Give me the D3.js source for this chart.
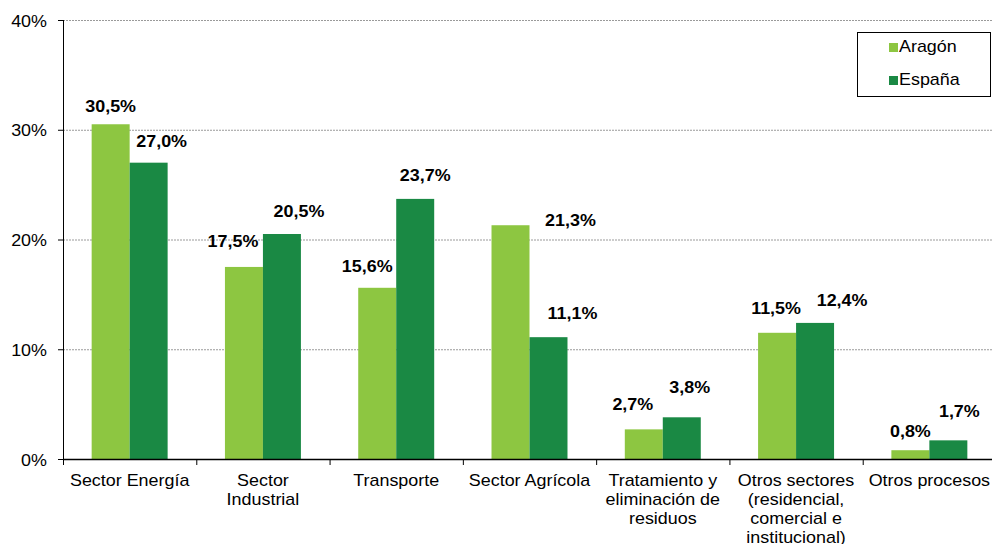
<!DOCTYPE html>
<html>
<head>
<meta charset="utf-8">
<script src="https://cdn.jsdelivr.net/npm/d3@7"></script>
<style>
  body { margin: 0; background: #fff; }
  svg { display: block; font-family: 'Liberation Sans', Arial, sans-serif; }
</style>
</head>
<body>
<div id="chart"></div>
<script>
// data
const categories = ['Sector Energía', 'Sector Industrial', 'Transporte', 'Sector Agrícola',
    'Tratamiento y eliminación de residuos', 'Otros sectores (residencial, comercial e institucional)', 'Otros procesos']
const categoryLines = [['Sector Energía'], ['Sector', 'Industrial'], ['Transporte'], ['Sector Agrícola'],
    ['Tratamiento y', 'eliminación de', 'residuos'], ['Otros sectores', '(residencial,', 'comercial e', 'institucional)'],
    ['Otros procesos']]
const seriesNames = ['Aragón', 'España']
const aragon = [30.5, 17.5, 15.6, 21.3, 2.7, 11.5, 0.8]
const espana = [27.0, 20.5, 23.7, 11.1, 3.8, 12.4, 1.7]
const yTicks = [0, 10, 20, 30, 40]

// hand placed label nudges (dx, dy from bar top), like in the original
const labelNudge = {
    'Aragón': [[0, -12], [-11, -20], [-10, -16], [60, 1], [-11, -19], [-1, -19], [0, -13]],
    'España': [[13, -16], [17, -17], [10, -18], [24, -18], [8, -24], [27, -17], [11, -23]]
}

const colours = { 'Aragón': '#8dc641', 'España': '#1a8944' }

const width = 992
const height = 544
const margin = { left: 63, top: 20, bottom: 85 }
const plotRight = 996
const sx = 1.12 // text in the source is a bit wide

const svg = d3.select('#chart').append('svg')
    .attr('width', width)
    .attr('height', height)

const y = d3.scaleLinear()
    .domain([0, 40])
    .range([height - margin.bottom, margin.top])

const x = d3.scaleBand()
    .domain(categories)
    .range([margin.left, plotRight])
    .padding(0)

const barW = x.bandwidth() * 0.285
const x1 = d3.scaleBand()
    .domain(seriesNames)
    .range([(x.bandwidth() - 2 * barW) / 2, (x.bandwidth() + 2 * barW) / 2])

const rows = categories.map((c, i) => ({ cat: c, i: i, values: [
    { name: 'Aragón', v: aragon[i] },
    { name: 'España', v: espana[i] }
] }))

// gridlines
svg.append('g')
    .selectAll('line')
    .data(yTicks.filter(d => d > 0))
    .enter().append('line')
    .attr('x1', margin.left)
    .attr('x2', width)
    .attr('y1', d => y(d) + 0.5)
    .attr('y2', d => y(d) + 0.5)
    .attr('stroke', '#9a9a9a')
    .attr('stroke-dasharray', '2,1')

// bars
const groups = svg.append('g')
    .selectAll('g')
    .data(rows)
    .enter().append('g')
    .attr('transform', d => 'translate(' + x(d.cat) + ',0)')

groups.selectAll('rect')
    .data(d => d.values)
    .enter().append('rect')
    .attr('x', d => x1(d.name))
    .attr('width', x1.bandwidth())
    .attr('y', d => y(d.v))
    .attr('height', d => y(0) - y(d.v))
    .attr('fill', d => colours[d.name])

// value labels
const fmt = d => d3.format('.1f')(d).replace('.', ',') + '%'
groups.each(function(row) {
    d3.select(this).selectAll('text.val')
        .data(row.values)
        .enter().append('text')
        .attr('class', 'val')
        .attr('transform', d => {
            const n = labelNudge[d.name][row.i]
            const cx = x1(d.name) + x1.bandwidth() / 2 + n[0]
            const cy = y(d.v) + n[1]
            return 'translate(' + cx + ',' + cy + ') scale(' + sx + ',1)'
        })
        .attr('text-anchor', 'middle')
        .style('font-size', '16px')
        .style('font-weight', 'bold')
        .attr('fill', '#000')
        .text(d => fmt(d.v))
})

// y axis
const yAxis = svg.append('g')
    .attr('transform', 'translate(' + margin.left + ',0)')
    .call(d3.axisLeft(y).tickValues(yTicks).tickSize(5).tickFormat(d => d + '%'))
yAxis.select('.domain').attr('d', 'M0.5,' + margin.top + 'V' + (y(0) + 0.5)).attr('stroke', '#000')
yAxis.selectAll('.tick line').attr('stroke', '#000')
yAxis.selectAll('.tick text')
    .attr('x', null)
    .attr('dy', null)
    .attr('transform', 'translate(-16,6) scale(' + sx + ',1)')
    .style('font-size', '16px')
    .style('font-family', "'Liberation Sans', Arial, sans-serif")
    .attr('fill', '#000')

// x axis
const xAxis = svg.append('g')
    .attr('transform', 'translate(0,' + y(0) + ')')
xAxis.append('line')
    .attr('x1', margin.left)
    .attr('x2', plotRight)
    .attr('y1', 0.5)
    .attr('y2', 0.5)
    .attr('stroke', '#000')
    .attr('stroke-width', 1.5)
xAxis.selectAll('.xtick')
    .data(categories.concat(['end']))
    .enter().append('line')
    .attr('class', 'xtick')
    .attr('x1', d => (d === 'end' ? plotRight : x(d)) + 0.5)
    .attr('x2', d => (d === 'end' ? plotRight : x(d)) + 0.5)
    .attr('y1', 0)
    .attr('y2', 6)
    .attr('stroke', '#000')

const xl = xAxis.selectAll('.xlab')
    .data(rows)
    .enter().append('text')
    .attr('class', 'xlab')
    .attr('text-anchor', 'middle')
    .attr('transform', d => 'translate(' + (x(d.cat) + x.bandwidth() / 2) + ',27) scale(' + sx + ',1)')
    .style('font-size', '16px')
    .attr('fill', '#000')
xl.selectAll('tspan')
    .data(d => categoryLines[d.i])
    .enter().append('tspan')
    .attr('x', 0)
    .attr('dy', (d, i) => i === 0 ? 0 : 19)
    .text(d => d)

// legend
const legend = svg.append('g')
    .attr('transform', 'translate(857,32)')
legend.append('rect')
    .attr('x', 0.5)
    .attr('y', 0.5)
    .attr('width', 133)
    .attr('height', 64)
    .attr('fill', '#fff')
    .attr('stroke', '#000')
const li = legend.selectAll('.li')
    .data(seriesNames)
    .enter().append('g')
    .attr('class', 'li')
    .attr('transform', (d, i) => 'translate(32,' + (11 + i * 33) + ')')
li.append('rect')
    .attr('width', 9)
    .attr('height', 9)
    .attr('fill', d => colours[d])
li.append('text')
    .attr('transform', 'translate(10,9) scale(' + sx + ',1)')
    .style('font-size', '16px')
    .attr('fill', '#000')
    .text(d => d)
</script>
</body>
</html>
